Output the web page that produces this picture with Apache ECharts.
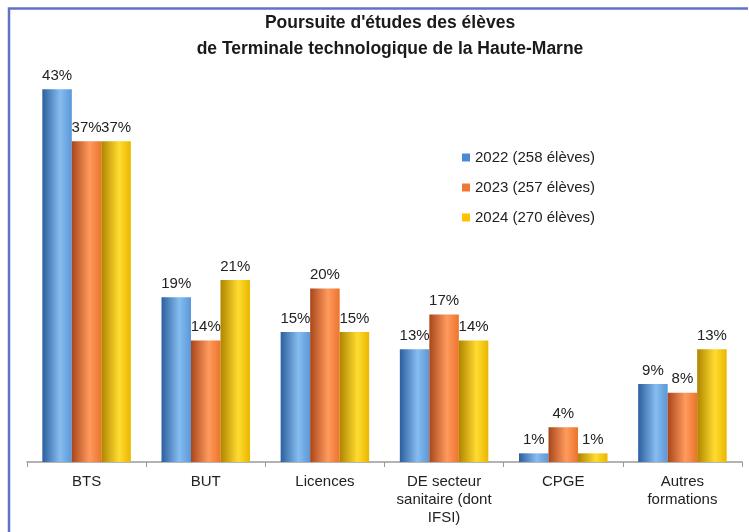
<!DOCTYPE html>
<html>
<head>
<meta charset="utf-8">
<script src="https://cdn.jsdelivr.net/npm/echarts@6/dist/echarts.min.js"></script>
<style>
  html, body { margin: 0; padding: 0; background: #ffffff; }
  #chart { width: 749px; height: 532px; }
</style>
</head>
<body>
<div id="chart"></div>
<script>
const categories = ['BTS', 'BUT', 'Licences', 'DE secteur\nsanitaire (dont\nIFSI)', 'CPGE', 'Autres\nformations']
const seriesNames = ['2022 (258 élèves)', '2023 (257 élèves)', '2024 (270 élèves)']
const values2022 = [43, 19, 15, 13, 1, 9]
const values2023 = [37, 14, 20, 17, 4, 8]
const values2024 = [37, 21, 15, 14, 1, 13]

const font = '"Liberation Sans", Arial, sans-serif'

// horizontal gradient to fake the cylinder look of the original bars
function cylinder(dark, light, edge) {
  return new echarts.graphic.LinearGradient(0, 0, 1, 0, [
    { offset: 0, color: dark },
    { offset: 0.6, color: light },
    { offset: 1, color: edge },
  ])
}

const palette = [
  { fill: cylinder('#2c5f9e', '#86bdf0', '#5b97d8'), legend: '#4a8ad4' },
  { fill: cylinder('#a9461a', '#ff9a5e', '#ec742c'), legend: '#ee7a32' },
  { fill: cylinder('#b08400', '#ffdc30', '#eab600'), legend: '#ffc000' },
]

const data = [values2022, values2023, values2024]

const chart = echarts.init(document.getElementById('chart'))

chart.setOption({
  backgroundColor: '#ffffff',
  textStyle: { fontFamily: font, color: '#222' },
  title: {
    text: "Poursuite d'études des élèves\nde Terminale technologique de la Haute-Marne",
    left: 385,
    textAlign: 'center',
    top: 5,
    textStyle: { fontFamily: font, fontSize: 17.5, fontWeight: 'bold', color: '#1a1a1a', lineHeight: 26 },
  },
  legend: {
    orient: 'vertical',
    left: 457,
    top: 145,
    itemWidth: 8,
    itemHeight: 8,
    itemGap: 15,
    icon: 'rect',
    textStyle: { fontFamily: font, fontSize: 15, color: '#222' },
    data: seriesNames.map((name, i) => ({ name, itemStyle: { color: palette[i].legend } })),
  },
  grid: { left: 27, right: 7, top: 28.5, bottom: 70 },
  xAxis: {
    type: 'category',
    data: categories,
    axisLine: { lineStyle: { color: '#9a9a9a', width: 1.5 } },
    axisTick: { show: true, length: 5, lineStyle: { color: '#9a9a9a' } },
    axisLabel: { fontFamily: font, fontSize: 15, color: '#222', lineHeight: 18, margin: 11, interval: 0 },
  },
  yAxis: {
    type: 'value',
    min: 0,
    max: 50,
    show: false,
    splitLine: { show: false },
  },
  series: data.map((vals, i) => ({
    name: seriesNames[i],
    type: 'bar',
    data: vals,
    barWidth: 29.5,
    barGap: '0%',
    itemStyle: { color: palette[i].fill },
    label: {
      show: true,
      position: 'top',
      distance: 6,
      formatter: '{c}%',
      fontFamily: font,
      fontSize: 15,
      color: '#222',
    },
  })),
  graphic: [
    {
      type: 'polyline',
      shape: { points: [[9, 532], [9, 8.5], [748, 8.5]] },
      style: { stroke: '#5f74c8', lineWidth: 2.5, fill: null },
      silent: true,
    },
  ],
})
</script>
</body>
</html>
